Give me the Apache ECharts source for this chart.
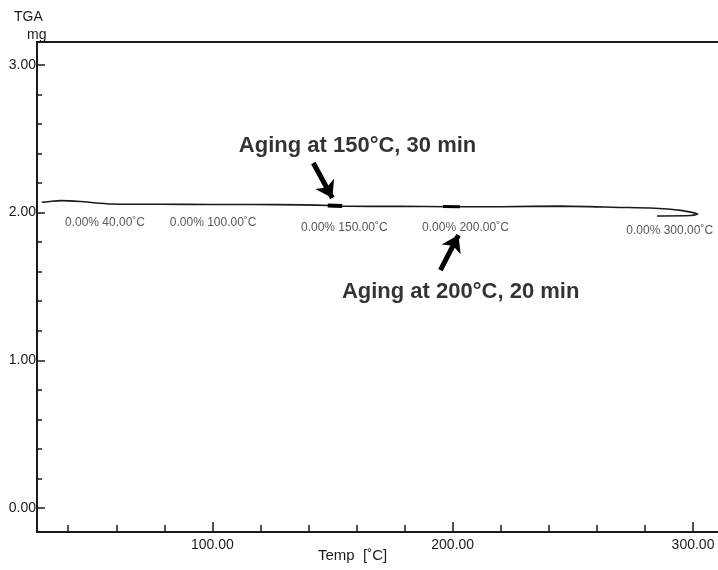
<!DOCTYPE html>
<html>
<head>
<meta charset="utf-8">
<script src="https://cdn.jsdelivr.net/npm/echarts@6/dist/echarts.min.js"></script>
<style>
  html, body { margin: 0; padding: 0; background: #fff; }
  #chart { width: 718px; height: 570px; }
</style>
</head>
<body>
<div id="chart"></div>
<script>
// TGA trace: temperature (°C) vs mass (mg)
const tempC  = [29, 33, 37, 45, 58, 78, 100, 116, 137, 149, 155, 178, 199, 220, 245, 270, 282, 295, 302, 299, 285];
const massMg = [2.070, 2.077, 2.081, 2.075, 2.058, 2.056, 2.055, 2.055, 2.052, 2.048, 2.043, 2.042, 2.040, 2.040, 2.044, 2.035, 2.031, 2.015, 1.990, 1.980, 1.977];

// thicker segments where the sample was held (aging)
const hold150Temp = [148, 154];
const hold150Mass = [2.048, 2.045];
const hold200Temp = [196, 203];
const hold200Mass = [2.041, 2.040];

// instrument read-outs under the curve
const readoutText = ['0.00% 40.00˚C', '0.00% 100.00˚C', '0.00% 150.00˚C', '0.00% 200.00˚C', '0.00% 300.00˚C'];
const readoutTemp = [55.3, 100.3, 154.9, 205.3, 290.3];
const readoutMass = [1.93, 1.93, 1.896, 1.896, 1.875];

// callouts and their arrows [tailTemp, tailMass, tipTemp, tipMass]
const calloutText = ['Aging at 150°C, 30 min', 'Aging at 200°C, 20 min'];
const calloutTemp = [160.4, 203.3];
const calloutMass = [2.45, 1.465];
const arrows = [
  [142, 2.336, 149.9, 2.099],
  [194.9, 1.611, 202.4, 1.848],
];

// axis ticks
const xMajor = [100, 200, 300];
const xMinor = [40, 60, 80, 120, 140, 160, 180, 220, 240, 260, 280];
const yMajor = [0, 1, 2, 3];
const yMinor = [0.2, 0.4, 0.6, 0.8, 1.2, 1.4, 1.6, 1.8, 2.2, 2.4, 2.6, 2.8, 3.0];

const X_MIN = 27, X_MAX = 310.4;
const Y_MIN = -0.1625, Y_MAX = 3.155;
const ink = '#1a1a1a';
const font = 'Liberation Sans, Arial, sans-serif';

let myChart = echarts.init(document.getElementById('chart'), null, { renderer: 'canvas' });

let axisLine = { show: true, onZero: false, lineStyle: { color: ink, width: 2 } };

myChart.setOption({
  animation: false,
  backgroundColor: '#fff',
  grid: { left: 37, right: 0, top: 42, bottom: 38, containLabel: false },
  graphic: [
    { type: 'text', left: 14, top: 10, style: { text: 'TGA', font: '14px ' + font, fill: ink } },
    { type: 'text', left: 27, top: 28, style: { text: 'mg', font: '14px ' + font, fill: ink } },
    { type: 'text', left: 318, top: 548, style: { text: 'Temp  [˚C]', font: '15px ' + font, fill: ink } },
  ],
  xAxis: [
    {
      // labelled bottom axis with long ticks
      type: 'value', position: 'bottom', min: X_MIN, max: X_MAX,
      axisLine: axisLine,
      axisTick: { show: true, inside: true, length: 10, customValues: xMajor, lineStyle: { color: ink, width: 1.5 } },
      axisLabel: {
        show: true, customValues: xMajor, margin: 6,
        formatter: v => v.toFixed(2), fontSize: 14, fontFamily: font, color: ink,
      },
      splitLine: { show: false },
    },
    {
      // short ticks on the same bottom axis
      type: 'value', position: 'bottom', min: X_MIN, max: X_MAX,
      axisLine: { show: false, onZero: false },
      axisTick: { show: true, inside: true, length: 7, customValues: xMinor, lineStyle: { color: ink, width: 1.5 } },
      axisLabel: { show: false },
      splitLine: { show: false },
    },
    {
      // plain top frame line
      type: 'value', position: 'top', min: X_MIN, max: X_MAX,
      axisLine: axisLine,
      axisTick: { show: false },
      axisLabel: { show: false },
      splitLine: { show: false },
    },
  ],
  yAxis: [
    {
      type: 'value', position: 'left', min: Y_MIN, max: Y_MAX,
      axisLine: axisLine,
      axisTick: { show: true, inside: true, length: 8, customValues: yMajor, lineStyle: { color: ink, width: 1.5 } },
      axisLabel: {
        show: true, customValues: yMajor, margin: 1,
        formatter: v => v.toFixed(2), fontSize: 14, fontFamily: font, color: ink,
      },
      splitLine: { show: false },
    },
    {
      type: 'value', position: 'left', min: Y_MIN, max: Y_MAX,
      axisLine: { show: false, onZero: false },
      axisTick: { show: true, inside: true, length: 5, customValues: yMinor, lineStyle: { color: ink, width: 1.5 } },
      axisLabel: { show: false },
      splitLine: { show: false },
    },
  ],
  series: [
    {
      type: 'line',
      data: tempC.map((t, i) => [t, massMg[i]]),
      showSymbol: false,
      smooth: 0.2,
      lineStyle: { color: ink, width: 1.6 },
    },
    {
      type: 'line',
      data: hold150Temp.map((t, i) => [t, hold150Mass[i]]),
      showSymbol: false,
      lineStyle: { color: '#000', width: 4 },
    },
    {
      type: 'line',
      data: hold200Temp.map((t, i) => [t, hold200Mass[i]]),
      showSymbol: false,
      lineStyle: { color: '#000', width: 3 },
    },
    {
      // read-outs
      type: 'scatter',
      symbolSize: 0,
      data: readoutText.map((s, i) => ({ name: s, value: [readoutTemp[i], readoutMass[i]] })),
      label: {
        show: true, position: 'inside', formatter: p => p.name,
        fontSize: 12, fontFamily: font, color: '#2a2a2a',
      },
    },
    {
      // bold callouts
      type: 'scatter',
      symbolSize: 0,
      data: calloutText.map((s, i) => ({ name: s, value: [calloutTemp[i], calloutMass[i]] })),
      label: {
        show: true, position: 'inside', formatter: p => p.name,
        fontSize: 22, fontWeight: 'bold', fontFamily: font, color: '#000',
      },
    },
    {
      type: 'lines',
      coordinateSystem: 'cartesian2d',
      symbol: ['none', 'arrow'],
      symbolSize: [0, 16],
      data: arrows.map(a => ({ coords: [[a[0], a[1]], [a[2], a[3]]] })),
      lineStyle: { color: '#000', width: 5, opacity: 1 },
    },
  ],
});
</script>
</body>
</html>
